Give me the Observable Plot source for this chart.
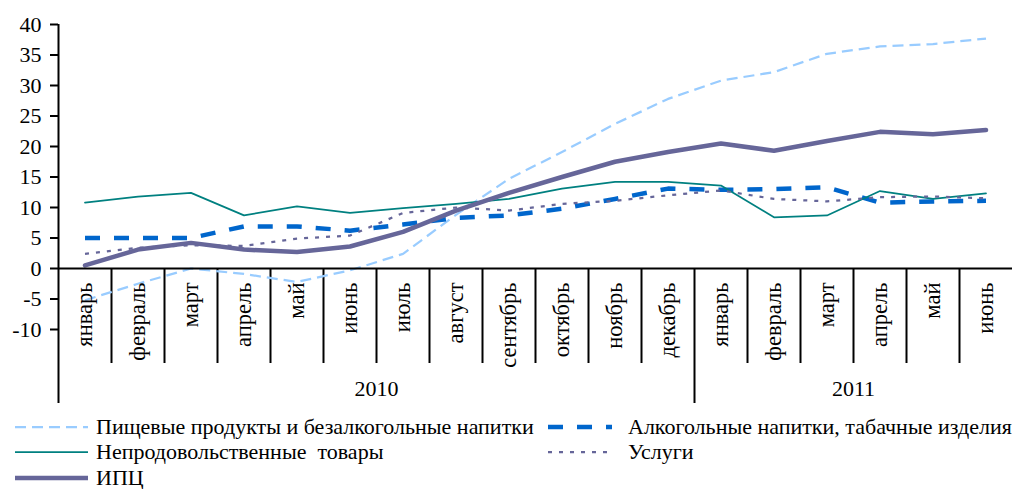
<!DOCTYPE html>
<html><head><meta charset="utf-8">
<script src="https://cdn.jsdelivr.net/npm/d3@7"></script>
<script src="https://cdn.jsdelivr.net/npm/@observablehq/plot@0.6"></script>
<style>
body{margin:0;background:#fff;font-family:"Liberation Serif",serif;}
#wrap{position:relative;width:1013px;height:489px;overflow:hidden;background:#fff}
#chart svg{display:block}
#chart svg text{font-family:"Liberation Serif",serif;}
.leg{position:absolute;font-family:"Liberation Serif",serif;font-size:22px;color:#000;white-space:pre;line-height:24px;height:24px}
</style></head><body><div id="wrap"><div id="chart"></div></div>
<script>
// ---- data ----
const months = ["январь","февраль","март","апрель","май","июнь","июль","август","сентябрь","октябрь","ноябрь","декабрь","январь","февраль","март","апрель","май","июнь"];
const years = ["2010","2011"];
const yearStart = [0, 12];
const yearEnd = [12, 18];
const yTicks = [-10,-5,0,5,10,15,20,25,30,35,40];
const food     = [-5.2,-2.5,0.0,-0.9,-2.2,-0.3,2.4,8.8,14.7,19.1,23.7,27.8,30.8,32.2,35.2,36.4,36.8,37.7];
const alcohol  = [5.0,5.0,5.0,6.9,6.9,6.2,7.2,8.3,8.7,9.8,11.4,13.1,12.9,13.0,13.3,10.8,11.0,11.1];
const nonfood  = [10.8,11.8,12.4,8.7,10.2,9.1,9.9,10.6,11.4,13.1,14.2,14.2,13.6,8.4,8.7,12.7,11.4,12.3];
const services = [2.4,3.4,3.8,3.7,4.9,5.4,9.1,10.0,9.5,10.6,11.1,12.0,12.8,11.4,11.0,11.7,11.8,11.5];
const cpi      = [0.5,3.1,4.2,3.1,2.7,3.6,6.0,9.5,12.4,15.0,17.5,19.1,20.5,19.3,20.9,22.4,22.0,22.7];
const seriesNames = ["Пищевые продукты и безалкогольные напитки","Алкогольные напитки, табачные изделия","Непродовольственные  товары","Услуги","ИПЦ"];

// ---- styles ----
const styles = [
  {stroke:"#99CCFF", strokeWidth:2.25, strokeDasharray:"11,6", strokeLinecap:"butt"},
  {stroke:"#0066CC", strokeWidth:4.5, strokeDasharray:"15,14", strokeLinecap:"butt"},
  {stroke:"#008080", strokeWidth:1.75},
  {stroke:"#666699", strokeWidth:2.25, strokeDasharray:"4,7", strokeLinecap:"butt"},
  {stroke:"#666699", strokeWidth:4.5}
];
const seriesData = [food, alcohol, nonfood, services, cpi];
const N = months.length;
const pos = months.map((m, i) => i + 0.5);
const bounds = d3.range(N).filter(i => !yearStart.includes(i));

const lineMarks = seriesData.map((vals, s) =>
  Plot.lineY(vals, {x: (d, i) => pos[i], y: d => d, strokeLinejoin: "round", ...styles[s]})
);

const plot = Plot.plot({
  width: 1013, height: 410,
  marginLeft: 58, marginRight: 1, marginTop: 24, marginBottom: 81,
  x: {domain: [0, N], axis: null},
  y: {domain: [-10, 40]},
  style: {fontFamily: "Liberation Serif, serif", fontSize: "22px", background: "#fff", color: "#000", overflow: "visible"},
  marks: [
    Plot.axisY({ticks: yTicks, tickSize: 8, tickPadding: 9, tickFormat: d => String(d), label: null, strokeWidth: 2, fontSize: 22}),
    Plot.ruleX([0], {y1: 40, y2: 0, insetBottom: -135, stroke: "#000", strokeWidth: 2}),
    Plot.ruleX(bounds, {x: d => d, y1: 0, y2: 0, insetBottom: -95, stroke: "#000", strokeWidth: 2}),
    Plot.ruleX(yearStart.filter(d => d > 0), {x: d => d, y1: 0, y2: 0, insetBottom: -135, stroke: "#000", strokeWidth: 2}),
    ...lineMarks,
    Plot.ruleY([0], {stroke: "#000", strokeWidth: 2}),
    Plot.text(months, {x: (d, i) => pos[i], y: 0, text: d => d, rotate: -90, textAnchor: "end", lineAnchor: "middle", dy: 14, fill: "#000", fontSize: 22.5}),
    Plot.text(years, {x: (d, i) => (yearStart[i] + yearEnd[i]) / 2, y: 0, text: d => d, dy: 120, lineAnchor: "middle", fill: "#000", fontSize: 22})
  ]
});
document.getElementById("chart").appendChild(plot);

// ---- legend ----
const wrap = document.getElementById("wrap");
const legPos = [
  {sx: 15, sw: 73, tx: 96, cy: 427},
  {sx: 548, sw: 64, tx: 628, cy: 427},
  {sx: 15, sw: 73, tx: 96, cy: 452},
  {sx: 548, sw: 64, tx: 628, cy: 452},
  {sx: 15, sw: 73, tx: 96, cy: 478}
];
seriesNames.forEach((name, s) => {
  const p = legPos[s], st = styles[s];
  const sv = d3.create("svg").attr("width", p.sw).attr("height", 24)
    .style("position", "absolute").style("left", p.sx + "px").style("top", (p.cy - 12) + "px");
  sv.append("line").attr("x1", 0).attr("x2", p.sw).attr("y1", 12).attr("y2", 12)
    .attr("stroke", st.stroke).attr("stroke-width", st.strokeWidth)
    .attr("stroke-dasharray", st.strokeDasharray || null)
    .attr("stroke-linecap", "butt");
  wrap.appendChild(sv.node());
  const t = document.createElement("div");
  t.className = "leg";
  t.style.left = p.tx + "px";
  t.style.top = (p.cy - 12) + "px";
  t.textContent = name;
  wrap.appendChild(t);
});
</script></body></html>
